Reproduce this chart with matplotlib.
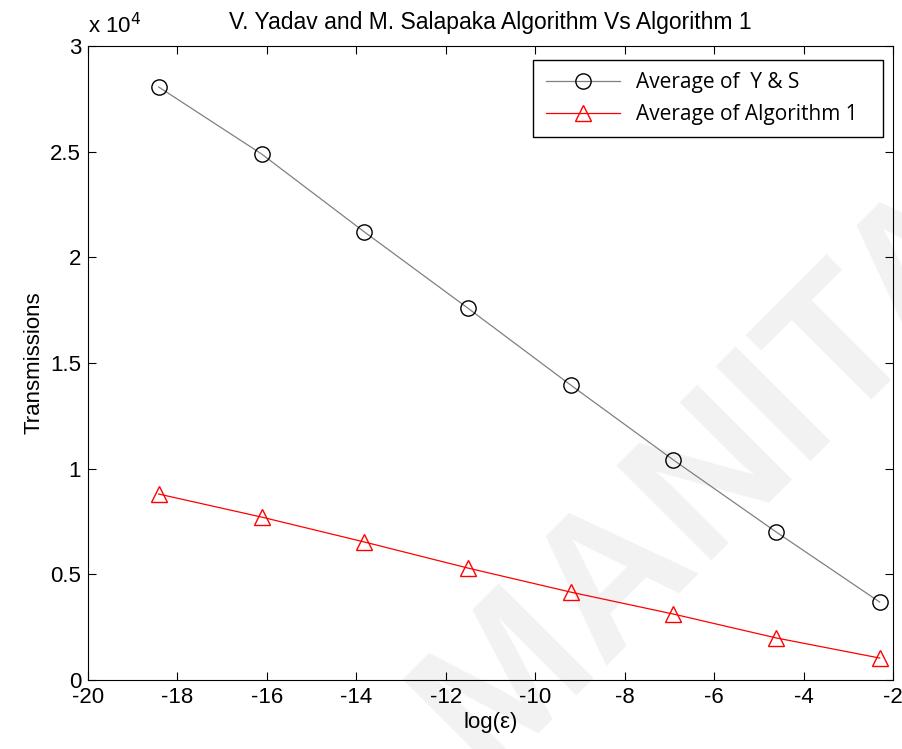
import matplotlib
matplotlib.use('Agg')
import matplotlib.pyplot as plt
import numpy as np

# log(eps) for eps = 1e-8 ... 1e-1
log_eps = [-18.42, -16.12, -13.82, -11.51, -9.21, -6.91, -4.61, -2.30]
avg_ys = [28060, 24890, 21200, 17600, 13960, 10410, 7000, 3690]
avg_alg1 = [8800, 7710, 6530, 5300, 4160, 3120, 1990, 1040]

plt.rcParams['font.family'] = ['Liberation Sans', 'DejaVu Sans']
plt.rcParams['axes.unicode_minus'] = False

fig = plt.figure(figsize=(9.03, 7.49), dpi=100)
ax = fig.add_axes([0.0975, 0.0921, 0.8915, 0.8465])

# watermark, behind everything in the axes
ax.text(0.537, -0.0334, 'MANITA', transform=fig.transFigure, fontsize=140,
        fontweight='bold', color='#f2f2f2', rotation=45, rotation_mode='anchor',
        ha='left', va='baseline', zorder=0, clip_on=False)

ax.plot(log_eps, avg_ys, color='#808080', lw=0.9, marker='o', ms=11,
        mfc='none', mec='black', mew=1.0, label='Average of  Y & S')
ax.plot(log_eps, avg_alg1, color='red', lw=0.9, marker='^', ms=12,
        mfc='none', mec='red', mew=1.0, label='Average of Algorithm 1')

ax.set_xlim(-20, -2)
ax.set_ylim(0, 30000)
ax.set_xticks(np.arange(-20, -1, 2))
ax.set_yticks(np.arange(0, 30001, 5000))
ax.set_yticklabels(['0', '0.5', '1', '1.5', '2', '2.5', '3'])
ax.tick_params(direction='in', top=True, right=True, labelsize=16, length=6, pad=5)
ax.text(0.0, 1.012, r'x 10$^4$', transform=ax.transAxes, fontsize=16,
        ha='left', va='bottom')

ax.set_title('V. Yadav and M. Salapaka Algorithm Vs Algorithm 1', fontsize=16.5, pad=12)
ax.set_xlabel('log(ε)', fontsize=16, labelpad=3)
ax.set_ylabel('Transmissions', fontsize=16, labelpad=4)

leg = ax.legend(loc='upper left', bbox_to_anchor=(0.5528, 0.978, 0.4348, 0),
                mode='expand', borderaxespad=0,
                prop={'family': 'Open Sans', 'size': 15},
                fancybox=False, edgecolor='black', framealpha=1,
                handlelength=3.55, handletextpad=0.77, labelspacing=0.5,
                borderpad=0.6)
leg.get_frame().set_linewidth(1.0)

fig.savefig('out.png', dpi=100)
